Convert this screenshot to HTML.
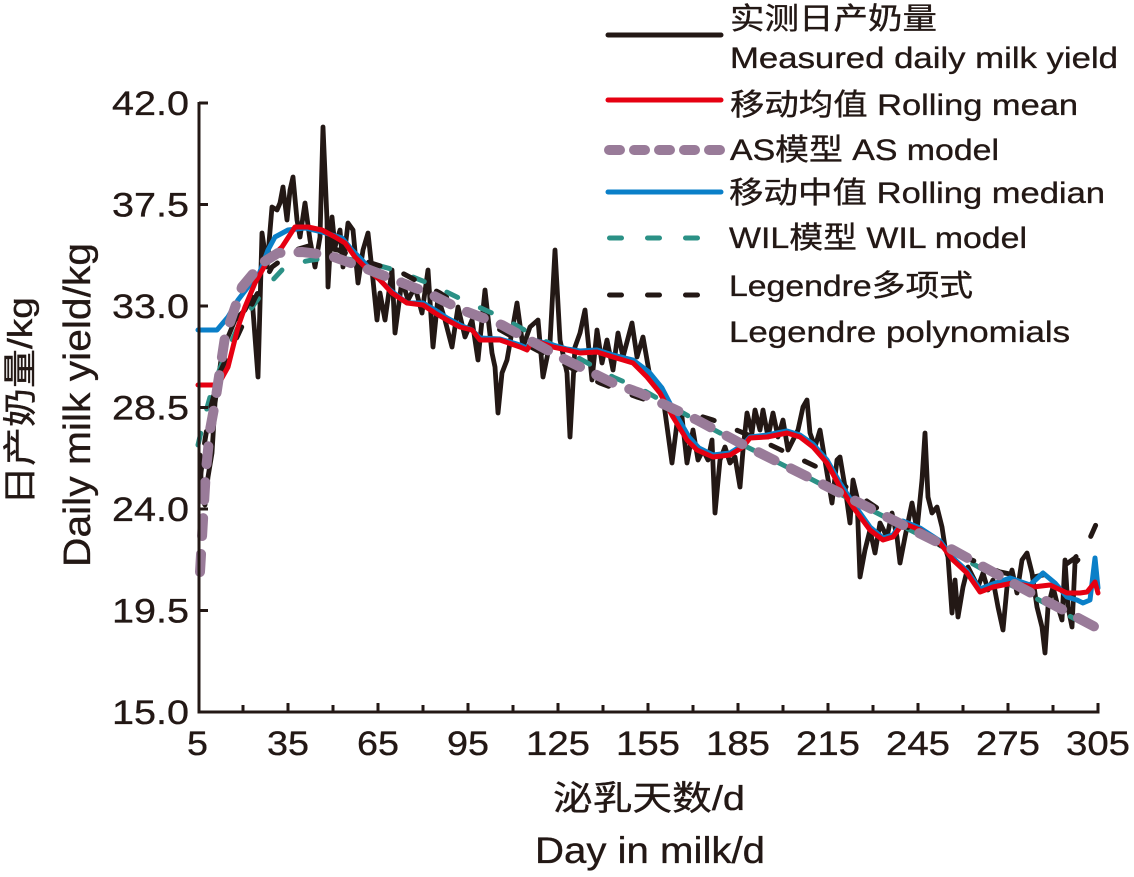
<!DOCTYPE html>
<html>
<head>
<meta charset="utf-8">
<style>
html,body{margin:0;padding:0;background:#fff;}
svg{display:block;}
text{font-family:"Liberation Sans","Noto Sans CJK SC",sans-serif;fill:#231815;stroke:#231815;stroke-width:0.35;}
</style>
</head>
<body>
<svg width="1134" height="877" viewBox="0 0 1134 877" xmlns="http://www.w3.org/2000/svg">
<rect width="1134" height="877" fill="#fff"/>

<!-- measured daily milk yield -->
<polyline fill="none" stroke="#231815" stroke-width="4.8" stroke-linejoin="round" stroke-linecap="round"
points="200,455 202,500 205,505 208,477 212,453 215,403 222,353 228,337 235,320 245,310 252,297 258,377 262,233 267,267 272,207 277,210 280,203 283,187 287,220 290,190 293,177 297,220 300,237 305,203 310,240 315,267 320,237 323,127 327,220 328,287 332,217 335,247 340,230 343,267 348,223 353,230 358,283 363,250 368,233 372,270 377,320 380,293 385,320 392,270 395,333 402,280 408,300 415,287 422,313 428,270 433,347 438,297 445,320 452,347 458,307 465,337 472,320 478,360 485,290 492,353 495,367 498,413 502,373 507,360 517,303 523,347 530,327 538,320 543,377 550,343 555,250 560,340 567,373 570,437 575,347 580,333 585,310 592,380 597,330 602,363 607,340 613,370 618,333 623,357 632,323 637,357 643,337 650,377 657,387 663,397 672,463 677,423 682,417 687,463 693,430 698,460 703,450 708,460 712,440 715,513 720,460 725,447 730,463 735,457 740,487 743,450 747,413 752,433 755,410 760,430 763,410 768,437 773,413 778,437 783,420 788,450 793,440 798,430 803,407 807,400 810,433 815,447 820,430 827,473 832,503 837,460 840,457 845,487 850,523 853,480 857,497 860,577 865,550 870,530 875,553 880,523 887,537 892,513 897,537 900,563 905,537 912,503 917,530 922,480 925,433 928,497 932,513 937,507 942,527 945,547 948,557 952,613 955,580 958,617 963,587 968,567 973,577 978,587 983,573 988,590 993,580 998,607 1003,630 1007,587 1012,570 1017,593 1022,560 1027,553 1032,573 1037,607 1042,627 1045,653 1048,607 1053,587 1058,607 1062,620 1065,560 1068,607 1072,627 1075,563 1078,560"/>

<!-- WIL model -->
<polyline fill="none" stroke="#2b9186" stroke-width="5" stroke-linejoin="round" stroke-linecap="round" stroke-dasharray="12 25"
points="198,445 205,415 212,390 222,363 238,327 255,303 270,283 282,270 297,263 312,260 335,257 365,262 395,270 428,283 463,300 503,318 537,337 573,355 613,377 643,390 690,417 737,442 807,477 877,513 943,547 1007,583 1077,620 1098,630"/>

<!-- Legendre -->
<polyline fill="none" stroke="#231815" stroke-width="5" stroke-linejoin="round" stroke-linecap="round" stroke-dasharray="12 25"
points="200,480 205,440 210,410 220,372 238,335 255,298 272,267 295,250 312,245 338,250 368,262 402,273 440,293 470,313 527,345 600,383 637,397 680,410 713,420 760,440 817,467 877,508 920,535 960,555 1000,572 1030,578 1055,572 1075,558 1090,538 1098,520"/>

<!-- rolling median -->
<polyline fill="none" stroke="#0a7fc8" stroke-width="5" stroke-linejoin="round" stroke-linecap="round"
points="198,330 217,330 228,317 238,300 248,287 258,277 268,250 275,237 288,230 305,228 322,232 342,238 352,250 362,260 375,275 390,290 407,303 423,303 435,310 447,318 460,325 472,330 480,338 500,339 520,345 527,348 533,340 553,345 567,349 580,351 597,350 613,355 633,360 649,372 662,388 675,413 689,437 699,448 713,455 730,453 743,445 750,437 767,435 787,431 800,435 813,444 827,460 840,483 853,503 870,527 883,538 893,535 903,521 920,528 940,541 953,558 967,571 980,589 993,584 1010,578 1030,585 1043,573 1055,583 1067,597 1077,600 1083,603 1090,600 1095,558 1098,588"/>

<!-- rolling mean -->
<polyline fill="none" stroke="#e60012" stroke-width="5" stroke-linejoin="round" stroke-linecap="round"
points="198,385 218,385 228,367 238,327 245,307 255,283 268,260 282,247 295,227 308,227 322,230 335,237 345,243 355,257 368,270 380,280 392,293 407,303 423,305 435,313 447,320 460,327 472,330 480,340 500,340 520,347 527,350 533,340 553,347 567,350 580,353 597,352 613,357 633,363 647,377 660,393 673,417 687,440 697,450 713,457 730,455 743,447 750,438 767,437 787,433 800,437 813,447 827,463 840,487 853,507 870,530 883,540 893,537 903,523 920,530 940,543 953,560 967,573 980,592 993,587 1013,583 1033,587 1050,585 1067,593 1080,593 1087,592 1095,582 1098,593"/>

<!-- AS model -->
<polyline fill="none" stroke="#997b99" stroke-width="10" stroke-linejoin="round" stroke-linecap="round" stroke-dasharray="18 18"
points="200,572 203,520 206,470 210,430 215,403 225,337 242,287 262,263 278,253 302,252 328,255 362,267 395,280 428,293 462,310 502,325 560,357 613,383 640,393 697,420 740,443 790,468 840,493 887,517 953,550 1020,587 1097,628"/>

<!-- axes -->
<g stroke="#231815" stroke-width="3" fill="none">
<line x1="199" y1="102" x2="199" y2="713.5"/>
<line x1="197.5" y1="712" x2="1099.5" y2="712"/>
<line x1="199" y1="103" x2="208" y2="103"/>
<line x1="199" y1="204.5" x2="208" y2="204.5"/>
<line x1="199" y1="306" x2="208" y2="306"/>
<line x1="199" y1="407.5" x2="208" y2="407.5"/>
<line x1="199" y1="509" x2="208" y2="509"/>
<line x1="199" y1="610.5" x2="208" y2="610.5"/>
<line x1="288" y1="712" x2="288" y2="703"/>
<line x1="378" y1="712" x2="378" y2="703"/>
<line x1="468" y1="712" x2="468" y2="703"/>
<line x1="558" y1="712" x2="558" y2="703"/>
<line x1="648" y1="712" x2="648" y2="703"/>
<line x1="738" y1="712" x2="738" y2="703"/>
<line x1="828" y1="712" x2="828" y2="703"/>
<line x1="918" y1="712" x2="918" y2="703"/>
<line x1="1008" y1="712" x2="1008" y2="703"/>
<line x1="1098" y1="712" x2="1098" y2="703"/>
<line x1="243" y1="712" x2="243" y2="705"/>
<line x1="333" y1="712" x2="333" y2="705"/>
<line x1="423" y1="712" x2="423" y2="705"/>
<line x1="513" y1="712" x2="513" y2="705"/>
<line x1="603" y1="712" x2="603" y2="705"/>
<line x1="693" y1="712" x2="693" y2="705"/>
<line x1="783" y1="712" x2="783" y2="705"/>
<line x1="873" y1="712" x2="873" y2="705"/>
<line x1="963" y1="712" x2="963" y2="705"/>
<line x1="1053" y1="712" x2="1053" y2="705"/>
</g>

<!-- y tick labels -->
<g font-size="34" text-anchor="end">
<text x="189" y="115" textLength="77" lengthAdjust="spacingAndGlyphs">42.0</text>
<text x="189" y="216.5" textLength="77" lengthAdjust="spacingAndGlyphs">37.5</text>
<text x="189" y="318" textLength="77" lengthAdjust="spacingAndGlyphs">33.0</text>
<text x="189" y="419.5" textLength="77" lengthAdjust="spacingAndGlyphs">28.5</text>
<text x="189" y="521" textLength="77" lengthAdjust="spacingAndGlyphs">24.0</text>
<text x="189" y="622.5" textLength="77" lengthAdjust="spacingAndGlyphs">19.5</text>
<text x="189" y="724" textLength="77" lengthAdjust="spacingAndGlyphs">15.0</text>
</g>

<!-- x tick labels -->
<g font-size="34">
<text x="187" y="755" textLength="21" lengthAdjust="spacingAndGlyphs">5</text>
<text x="267" y="755" textLength="42" lengthAdjust="spacingAndGlyphs">35</text>
<text x="357" y="755" textLength="42" lengthAdjust="spacingAndGlyphs">65</text>
<text x="447" y="755" textLength="42" lengthAdjust="spacingAndGlyphs">95</text>
<text x="526" y="755" textLength="64" lengthAdjust="spacingAndGlyphs">125</text>
<text x="616" y="755" textLength="64" lengthAdjust="spacingAndGlyphs">155</text>
<text x="706" y="755" textLength="64" lengthAdjust="spacingAndGlyphs">185</text>
<text x="796" y="755" textLength="64" lengthAdjust="spacingAndGlyphs">215</text>
<text x="886" y="755" textLength="64" lengthAdjust="spacingAndGlyphs">245</text>
<text x="976" y="755" textLength="64" lengthAdjust="spacingAndGlyphs">275</text>
<text x="1066" y="755" textLength="64" lengthAdjust="spacingAndGlyphs">305</text>
</g>

<!-- axis titles -->
<text x="553" y="810" font-size="34" textLength="192" lengthAdjust="spacingAndGlyphs">泌乳天数/d</text>
<text x="535" y="863" font-size="37" textLength="230" lengthAdjust="spacingAndGlyphs">Day in milk/d</text>
<text transform="translate(32,505) rotate(-90)" font-size="34" textLength="208" lengthAdjust="spacingAndGlyphs">日产奶量/kg</text>
<text transform="translate(90,567) rotate(-90)" font-size="38" textLength="324" lengthAdjust="spacingAndGlyphs">Daily milk yield/kg</text>

<!-- legend samples -->
<line x1="608" y1="35" x2="721" y2="35" stroke="#231815" stroke-width="5" stroke-linecap="round"/>
<line x1="608" y1="100" x2="721" y2="100" stroke="#e60012" stroke-width="5" stroke-linecap="round"/>
<line x1="609" y1="150" x2="721" y2="150" stroke="#997b99" stroke-width="10" stroke-linecap="round" stroke-dasharray="11 14"/>
<line x1="608" y1="192" x2="721" y2="192" stroke="#0a7fc8" stroke-width="5" stroke-linecap="round"/>
<line x1="609.5" y1="238" x2="700" y2="238" stroke="#2b9186" stroke-width="5" stroke-linecap="round" stroke-dasharray="12 26"/>
<line x1="609.5" y1="295" x2="700" y2="295" stroke="#231815" stroke-width="5" stroke-linecap="round" stroke-dasharray="12 26"/>

<!-- legend texts -->
<g font-size="30">
<text x="730" y="29" textLength="207" lengthAdjust="spacingAndGlyphs">实测日产奶量</text>
<text x="730" y="68" textLength="388" lengthAdjust="spacingAndGlyphs">Measured daily milk yield</text>
<text x="730" y="115" textLength="348" lengthAdjust="spacingAndGlyphs">移动均值 Rolling mean</text>
<text x="730" y="160" textLength="269" lengthAdjust="spacingAndGlyphs">AS模型 AS model</text>
<text x="729" y="203" textLength="376" lengthAdjust="spacingAndGlyphs">移动中值 Rolling median</text>
<text x="729" y="248" textLength="298" lengthAdjust="spacingAndGlyphs">WIL模型 WIL model</text>
<text x="729" y="296" textLength="244" lengthAdjust="spacingAndGlyphs">Legendre多项式</text>
<text x="729" y="342" textLength="341" lengthAdjust="spacingAndGlyphs">Legendre polynomials</text>
</g>
</svg>
</body>
</html>
